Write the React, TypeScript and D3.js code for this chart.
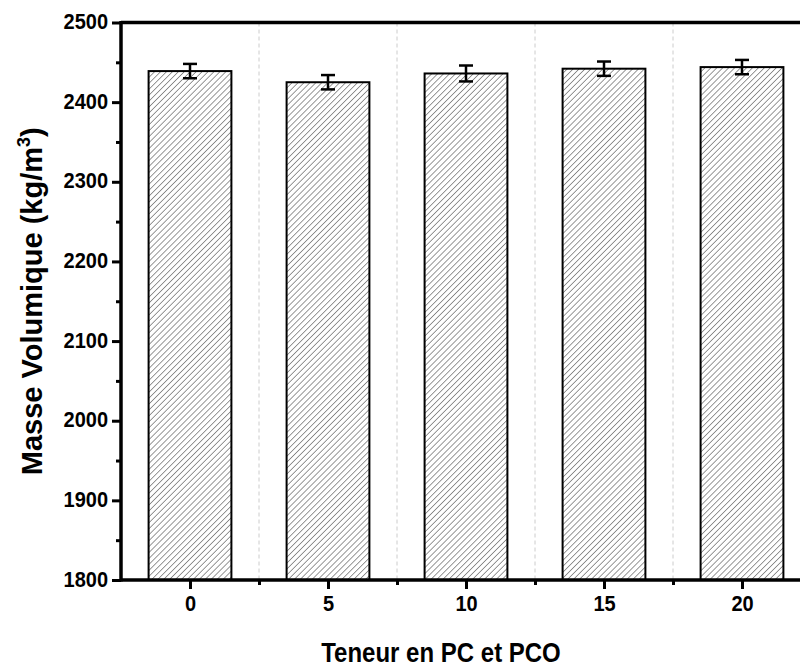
import React, { useEffect, useRef } from 'react';
import * as d3 from 'd3';

// Teneur en PC et PCO (%) vs masse volumique
const teneurs = [0, 5, 10, 15, 20];
const masseVol = [2439, 2425, 2436, 2442, 2444];
const erreurs = [9, 9, 10, 9, 9];
const yTicks = [1800, 1900, 2000, 2100, 2200, 2300, 2400, 2500];
const yMinor = [1850, 1950, 2050, 2150, 2250, 2350, 2450];
const xMinor = [2.5, 7.5, 12.5, 17.5];

export default function App() {
  const ref = useRef<SVGSVGElement>(null);

  useEffect(() => {
    document.body.style.margin = '0';
    const svg = d3.select(ref.current);
    svg.selectAll('*').remove();

    const W = 800, H = 668;
    const x = d3.scaleLinear().domain([-2.5, 22.5]).range([121, 811]);
    const y = d3.scaleLinear().domain([1800, 2500]).range([580, 22.5]);
    const font = '"Liberation Sans", Arial, sans-serif';

    const defs = svg.append('defs');
    const pat = defs.append('pattern')
      .attr('id', 'hatch')
      .attr('patternUnits', 'userSpaceOnUse')
      .attr('width', 4.2)
      .attr('height', 4.2)
      .attr('patternTransform', 'rotate(45)');
    pat.append('rect').attr('width', 4.2).attr('height', 4.2).attr('fill', '#fff');
    pat.append('line')
      .attr('x1', 0).attr('y1', 0).attr('x2', 0).attr('y2', 4.2)
      .attr('stroke', '#333').attr('stroke-width', 1);

    svg.append('rect').attr('width', W).attr('height', H).attr('fill', '#fff');

    // grid
    svg.append('g').selectAll('line').data(xMinor).join('line')
      .attr('x1', d => x(d)).attr('x2', d => x(d))
      .attr('y1', y(2500)).attr('y2', y(1800))
      .attr('stroke', '#ccc').attr('stroke-width', 1)
      .attr('stroke-dasharray', '4,3');

    const bw = (x(5) - x(0)) * 0.6;

    // bars
    svg.append('g').selectAll('rect').data(teneurs).join('rect')
      .attr('x', d => x(d) - bw / 2)
      .attr('y', (d, i) => y(masseVol[i]))
      .attr('width', bw)
      .attr('height', (d, i) => y(1800) - y(masseVol[i]))
      .attr('fill', 'url(#hatch)')
      .attr('stroke', '#000')
      .attr('stroke-width', 2);

    // error bars
    const eb = svg.append('g').attr('stroke', '#000').attr('stroke-width', 2.5);
    teneurs.forEach((t, i) => {
      const cx = x(t);
      const top = y(masseVol[i] + erreurs[i]);
      const bot = y(masseVol[i] - erreurs[i]);
      eb.append('line').attr('x1', cx).attr('x2', cx).attr('y1', top).attr('y2', bot);
      eb.append('line').attr('x1', cx - 7).attr('x2', cx + 7).attr('y1', top).attr('y2', top);
      eb.append('line').attr('x1', cx - 7).attr('x2', cx + 7).attr('y1', bot).attr('y2', bot);
    });

    // axes
    const yAxis = svg.append('g').attr('transform', `translate(${x(-2.5)},0)`)
      .call(d3.axisLeft(y).tickValues(yTicks).tickSize(9).tickPadding(4).tickFormat(d3.format('d')));
    yAxis.select('.domain').remove();
    yAxis.selectAll('.tick line').attr('stroke-width', 3);
    yAxis.selectAll('.tick text')
      .attr('font-family', font).attr('font-weight', 'bold').attr('font-size', 20).attr('fill', '#000')
      .attr('transform', 'scale(1,1.1)').attr('dy', '0.28em');

    svg.append('g').attr('transform', `translate(${x(-2.5)},0)`)
      .call(d3.axisLeft(y).tickValues(yMinor).tickSize(5).tickFormat(() => ''))
      .call(g => g.select('.domain').remove())
      .selectAll('.tick line').attr('stroke-width', 3);

    const xAxis = svg.append('g').attr('transform', `translate(0,${y(1800)})`)
      .call(d3.axisBottom(x).tickValues(teneurs).tickSize(9).tickPadding(5).tickFormat(d3.format('d')));
    xAxis.select('.domain').remove();
    xAxis.selectAll('.tick line').attr('stroke-width', 3);
    xAxis.selectAll('.tick text')
      .attr('font-family', font).attr('font-weight', 'bold').attr('font-size', 20).attr('fill', '#000')
      .attr('transform', 'scale(1,1.1)');

    svg.append('g').attr('transform', `translate(0,${y(1800)})`)
      .call(d3.axisBottom(x).tickValues(xMinor).tickSize(5).tickFormat(() => ''))
      .call(g => g.select('.domain').remove())
      .selectAll('.tick line').attr('stroke-width', 3);

    // frame lines
    const frame = svg.append('g').attr('stroke', '#000').attr('stroke-width', 3.5).attr('fill', 'none');
    frame.append('line').attr('x1', x(-2.5)).attr('x2', x(-2.5)).attr('y1', y(2500) - 1.5).attr('y2', y(1800) + 1.5);
    frame.append('line').attr('x1', x(-2.5)).attr('x2', W).attr('y1', y(1800)).attr('y2', y(1800));
    frame.append('line').attr('x1', x(-2.5)).attr('x2', W).attr('y1', y(2500)).attr('y2', y(2500));

    // axis titles
    svg.append('text')
      .attr('transform', 'translate(441,662) scale(1,1.15)')
      .attr('text-anchor', 'middle')
      .attr('font-family', font).attr('font-weight', 'bold').attr('font-size', 24)
      .text('Teneur en PC et PCO');

    const yl = svg.append('text')
      .attr('transform', `translate(42,${(y(2500) + y(1800)) / 2}) rotate(-90)`)
      .attr('text-anchor', 'middle')
      .attr('font-family', font).attr('font-weight', 'bold').attr('font-size', 29);
    yl.append('tspan').text('Masse Volumique (kg/m');
    yl.append('tspan').attr('font-size', 18).attr('dy', -12).text('3');
    yl.append('tspan').attr('dy', 12).text(')');
  }, []);

  return <svg ref={ref} width={800} height={668} style={{ display: 'block' }} />;
}
